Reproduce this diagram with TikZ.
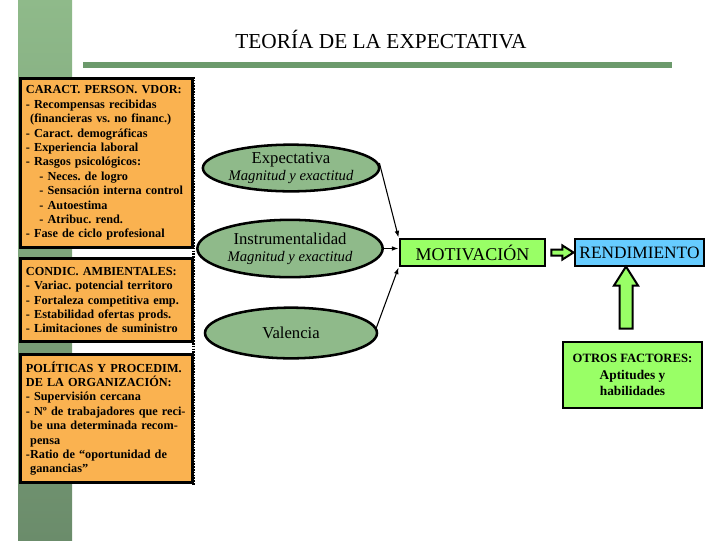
\documentclass[tikz,border=0pt]{standalone}
\usepackage{fontspec}
\setmainfont{Liberation Serif}
\usetikzlibrary{shapes.geometric,arrows.meta,calc}
\frenchspacing

\definecolor{barTop}{RGB}{143,186,138}
\definecolor{barBot}{RGB}{107,140,107}
\definecolor{ruleGreen}{RGB}{108,154,108}
\definecolor{boxOrange}{RGB}{250,178,80}
\definecolor{ovalGreen}{RGB}{143,186,138}
\definecolor{lightGreen}{RGB}{153,255,102}
\definecolor{lightBlue}{RGB}{102,204,255}

\begin{document}
\begin{tikzpicture}[x=0.75pt,y=0.75pt,yscale=-1,xscale=1,
  factorbox/.style={draw=black, line width=2.4pt, fill=boxOrange, anchor=north west, inner xsep=4pt, inner ysep=0pt, text width=121pt, align=left, font=\fontsize{9.2}{10.8}\selectfont\bfseries},
  oval/.style={ellipse, draw=black, line width=1.9pt, fill=ovalGreen, inner sep=0pt, align=center, font=\fontsize{12.5}{13}\selectfont},
  resultbox/.style={draw=black, line width=2.2pt, inner sep=0pt, font=\fontsize{13.5}{14}\selectfont},
  conn/.style={line width=0.8pt, -{Latex[length=5pt,width=3.5pt]}},
  blockarrow/.style={draw=black, line width=1.5pt, fill=lightGreen, line join=miter}
]
\useasboundingbox (0,0) rectangle (720,540);

%Left bar and title rule
\shade[top color=barTop, bottom color=barBot] (18,0) rectangle (72,540);
\fill[ruleGreen] (83,62) rectangle (672,68);

% Text Node
\node[anchor=base, font=\fontsize{16}{18}\selectfont] (title) at (381,48) {TEORÍA DE LA EXPECTATIVA};

%Factor boxes
\node[factorbox, minimum height=126.75pt] (caract) at (19,77) {CARACT. PERSON. VDOR:\\
- Recompensas recibidas\\
\hspace*{0.35em}(financieras vs. no financ.)\\
- Caract. demográficas\\
- Experiencia laboral\\
- Rasgos psicológicos:\\
\hspace*{1.1em}- Neces. de logro\\
\hspace*{1.1em}- Sensación interna control\\
\hspace*{1.1em}- Autoestima\\
\hspace*{1.1em}- Atribuc. rend.\\
- Fase de ciclo profesional};
\node[factorbox, minimum height=62.25pt] (condic) at (19,257) {CONDIC. AMBIENTALES:\\
- Variac. potencial territoro\\
- Fortaleza competitiva emp.\\
- Estabilidad ofertas prods.\\
- Limitaciones de suministro};
\node[factorbox, minimum height=96pt] (polit) at (19,353) {POLÍTICAS Y PROCEDIM.\\
DE LA ORGANIZACIÓN:\\
- Supervisión cercana\\
- Nº de trabajadores que reci-\\
\hspace*{0.35em}be una determinada recom-\\
\hspace*{0.35em}pensa\\
-Ratio de “oportunidad de\\
\hspace*{0.35em}ganancias”};

%Dotted separator
\draw[line width=2.2pt, dash pattern=on 1.2pt off 0.9pt] (193.5,77) -- (193.5,485);

%Expectancy ovals
\node[oval, minimum width=129pt, minimum height=35pt] (expect) at (291,168) {Expectativa\\{\itshape\fontsize{11}{12}\selectfont Magnitud y exactitud}};
\node[oval, minimum width=139pt, minimum height=43pt] (instr) at (290,248.5) {Instrumentalidad\\{\itshape\fontsize{11}{13.5}\selectfont Magnitud y exactitud}};
\node[oval, minimum width=129pt, minimum height=38pt] (valen) at (291,333) {Valencia};

%Result boxes
\node[resultbox, fill=lightGreen, minimum width=108.75pt, minimum height=20.25pt] (motiv) at (472.5,252.5) {MOTIVACIÓN};
\node[resultbox, fill=lightBlue, minimum width=96.75pt, minimum height=20.25pt, font=\fontsize{13}{14}\selectfont] (rend) at (639.5,252.5) {RENDIMIENTO};
\node[draw=black, line width=2.2pt, fill=lightGreen, minimum width=104.25pt, minimum height=49.5pt, inner sep=0pt, align=center, font=\fontsize{10}{12.5}\selectfont\bfseries] (otros) at (632.5,375) {{\fontsize{9.5}{12.5}\selectfont OTROS FACTORES:}\\Aptitudes y\\habilidades};

%Connectors
\draw[conn] ($(expect.east)+(-1,-5)$) -- (motiv.north west);
\draw[conn] (instr.east) -- (instr.east -| motiv.west);
\draw[conn] ($(valen.east)+(-2,-5)$) -- (motiv.south west);

%Block arrows
\draw[blockarrow] ($(motiv.east)+(5,-3)$) -- ++(11,0) -- ++(0,-4) -- ++(11,7) -- ++(-11,7) -- ++(0,-4) -- ++(-11,0) -- cycle;
\draw[blockarrow] ($(otros.north)+(-6.5,-12)$) -- ++(-6.5,0) -- ++(0,-43) -- ++(-5.5,0) -- ++(12,-19) -- ++(12,19) -- ++(-5.5,0) -- ++(0,43) -- cycle;

\end{tikzpicture}
\end{document}
